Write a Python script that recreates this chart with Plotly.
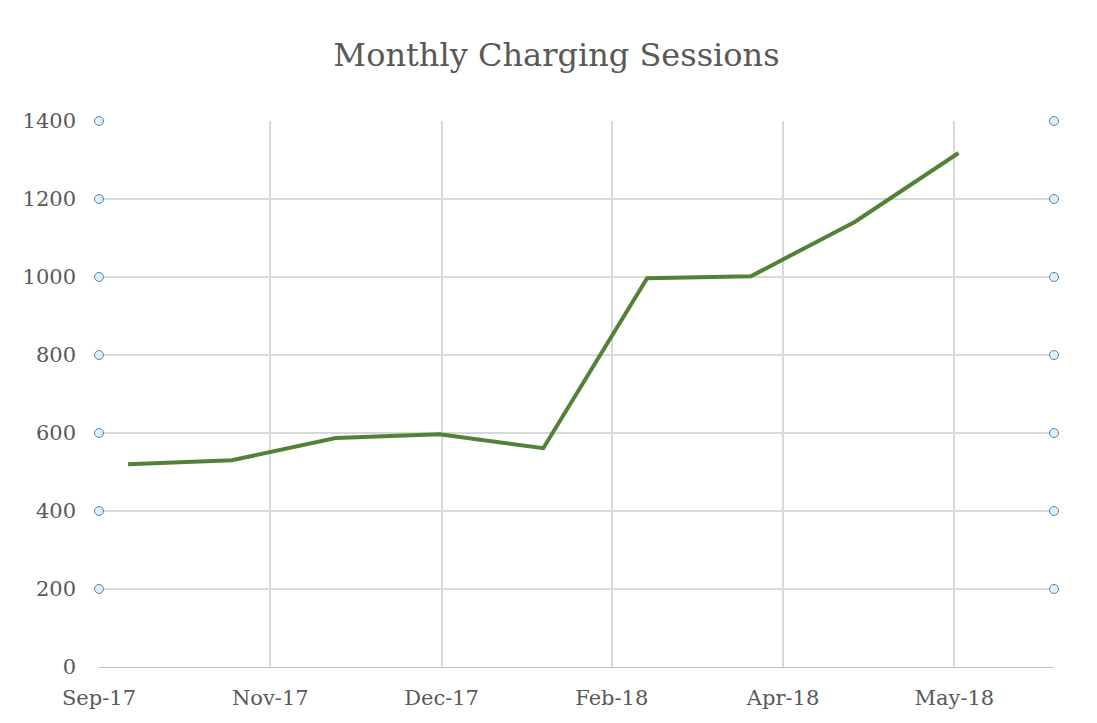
import plotly.graph_objects as go

months = ["Sep-17","Oct-17","Nov-17","Dec-17","Jan-18","Feb-18","Mar-18","Apr-18","May-18"]
sessions = [520, 530, 587, 597, 561, 997, 1002, 1141, 1318]
tick_labels = ["Sep-17","Nov-17","Dec-17","Feb-18","Apr-18","May-18"]
tick_pos = [-0.28, 1.37, 3.02, 4.66, 6.31, 7.96]
y_ticks = [0, 200, 400, 600, 800, 1000, 1200, 1400]

x = list(range(len(months)))
xr = [-0.28, 8.92]
font = "DejaVu Serif"

fig = go.Figure()
fig.add_trace(go.Scatter(x=x, y=sessions, mode="lines", text=months,
                         line=dict(color="#538135", width=4), showlegend=False))
cy = y_ticks[1:]
fig.add_trace(go.Scatter(x=[xr[0]]*len(cy)+[xr[1]]*len(cy), y=cy+cy, mode="markers",
                         marker=dict(size=9, color="#dfeff7", line=dict(color="#4a86b0", width=1)),
                         cliponaxis=False, showlegend=False, hoverinfo="skip"))
fig.update_layout(
    width=1097, height=723, paper_bgcolor="white", plot_bgcolor="white",
    margin=dict(l=91, r=51, t=113, b=64),
    title=dict(text="Monthly Charging Sessions", x=0.5, y=0.935, xanchor="center",
               yanchor="middle", font=dict(family=font, size=32, color="#595959")),
    font=dict(family=font, color="#595959", size=20),
)
fig.update_xaxes(range=xr, tickvals=tick_pos, ticktext=tick_labels, showgrid=True,
                 gridcolor="#d9d9d9", gridwidth=1.5, showline=True, linecolor="#bfbfbf",
                 ticks="", zeroline=False, tickfont=dict(size=21), automargin=False,
                 ticklabelstandoff=12)
fig.update_yaxes(range=[0, 1400], tickvals=y_ticks, showgrid=True, gridcolor="#d9d9d9",
                 gridwidth=1.5, zeroline=False, ticks="", tickfont=dict(size=21),
                 automargin=False, ticklabelstandoff=22)
fig.write_html("out.html")
